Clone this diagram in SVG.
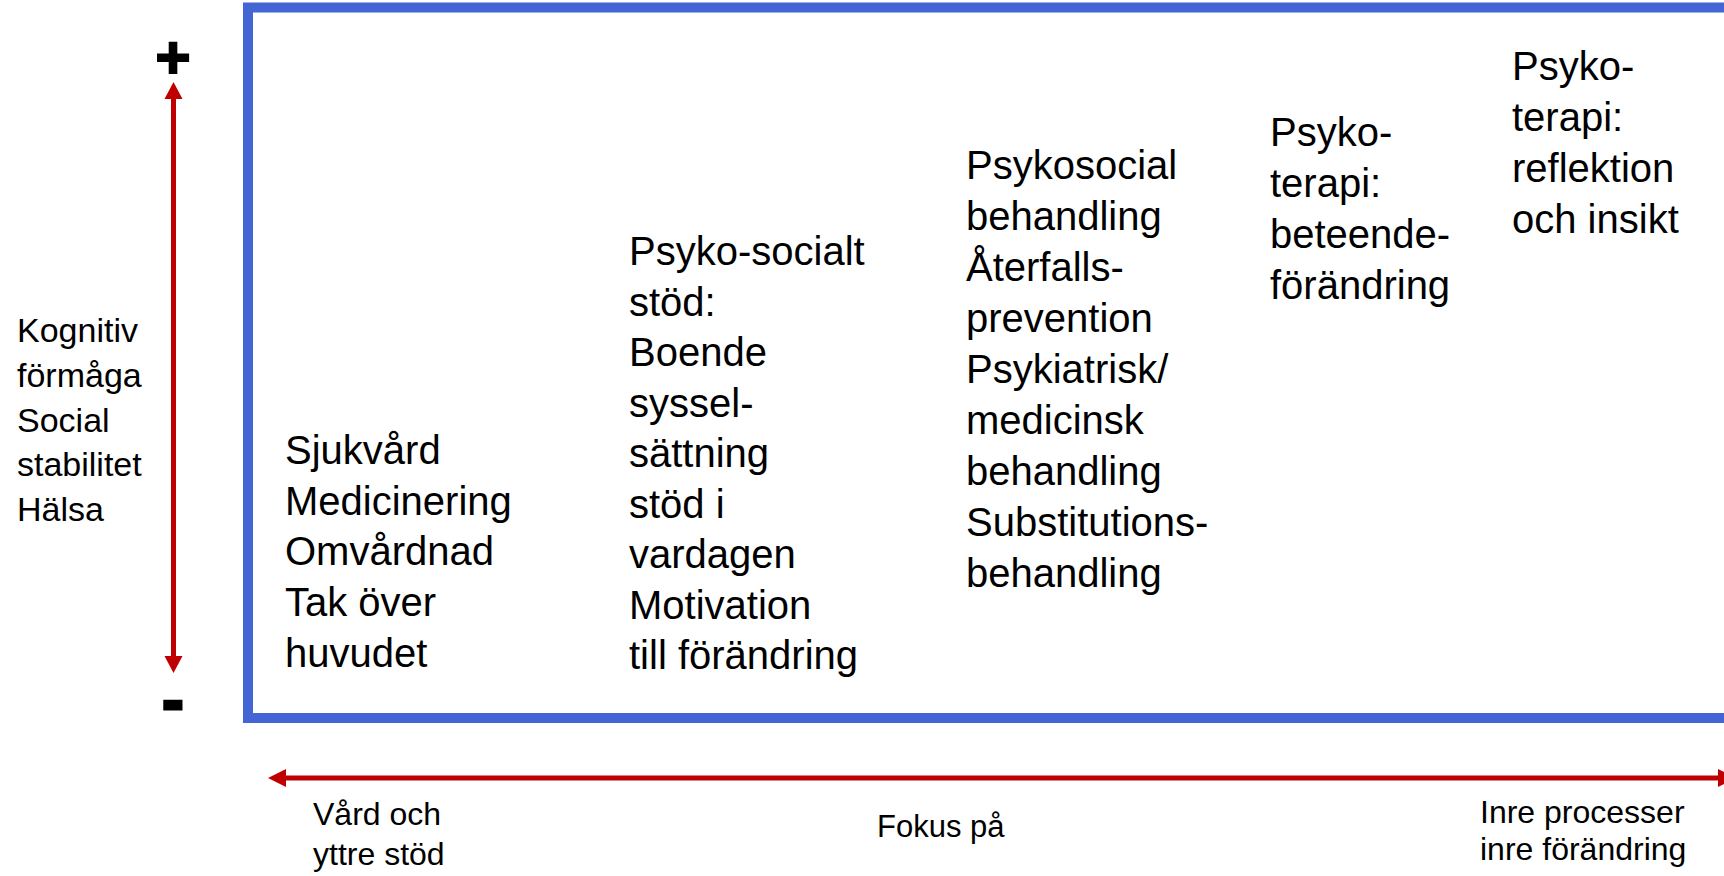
<svg xmlns="http://www.w3.org/2000/svg" width="1724" height="876" viewBox="0 0 1724 876">
<style>
.t{font-family:"Liberation Sans",Arial,sans-serif;fill:#000}
.big{font-size:40px}
.mid{font-size:34px}
.sm{font-size:32px}
.arrow{stroke:#C00000;stroke-width:5;fill:none}
.head{fill:#C00000}
</style>
<rect width="1724" height="876" fill="#fff"/>
<g id="frame">
<rect x="248" y="7.5" width="1500" height="710.5" fill="none" stroke="#4466D4" stroke-width="10"/>
</g>
<g id="connectors">
<line class="arrow" x1="173.5" y1="97" x2="173.5" y2="658"/>
<polygon class="head" points="173.5,82 182.5,99 164.5,99"/>
<polygon class="head" points="173.5,673 182.5,656 164.5,656"/>
<line class="arrow" x1="284" y1="778" x2="1720" y2="778"/>
<polygon class="head" points="268,778 286,769 286,787"/>
<polygon class="head" points="1736,778 1718,769 1718,787"/>
</g>
<g id="plus"><text class="t" x="173" y="78" font-size="60" font-weight="bold" text-anchor="middle" stroke="#000" stroke-width="2">+</text></g>
<g id="minus"><text class="t" x="173" y="722" font-size="64" font-weight="bold" text-anchor="middle" stroke="#000" stroke-width="3">-</text></g>
<g id="yaxis-label">
<text class="t mid" x="17" y="342">Kognitiv</text>
<text class="t mid" x="17" y="386.75">förmåga</text>
<text class="t mid" x="17" y="431.5">Social</text>
<text class="t mid" x="17" y="476.25">stabilitet</text>
<text class="t mid" x="17" y="521">Hälsa</text>
</g>
<g id="col1">
<text class="t big" x="285" y="464">Sjukvård</text>
<text class="t big" x="285" y="514.7">Medicinering</text>
<text class="t big" x="285" y="565.4">Omvårdnad</text>
<text class="t big" x="285" y="616.1">Tak över</text>
<text class="t big" x="285" y="666.8">huvudet</text>
</g>
<g id="col2">
<text class="t big" x="629" y="265">Psyko-socialt</text>
<text class="t big" x="629" y="315.5">stöd:</text>
<text class="t big" x="629" y="366">Boende</text>
<text class="t big" x="629" y="416.5">syssel-</text>
<text class="t big" x="629" y="467">sättning</text>
<text class="t big" x="629" y="517.5">stöd i</text>
<text class="t big" x="629" y="568">vardagen</text>
<text class="t big" x="629" y="618.5">Motivation</text>
<text class="t big" x="629" y="669">till förändring</text>
</g>
<g id="col3">
<text class="t big" x="966" y="179">Psykosocial</text>
<text class="t big" x="966" y="230">behandling</text>
<text class="t big" x="966" y="281">Återfalls-</text>
<text class="t big" x="966" y="332">prevention</text>
<text class="t big" x="966" y="383">Psykiatrisk/</text>
<text class="t big" x="966" y="434">medicinsk</text>
<text class="t big" x="966" y="485">behandling</text>
<text class="t big" x="966" y="536">Substitutions-</text>
<text class="t big" x="966" y="587">behandling</text>
</g>
<g id="col4">
<text class="t big" x="1270" y="146">Psyko-</text>
<text class="t big" x="1270" y="197">terapi:</text>
<text class="t big" x="1270" y="248">beteende-</text>
<text class="t big" x="1270" y="299">förändring</text>
</g>
<g id="col5">
<text class="t big" x="1512" y="80">Psyko-</text>
<text class="t big" x="1512" y="131">terapi:</text>
<text class="t big" x="1512" y="182">reflektion</text>
<text class="t big" x="1512" y="233">och insikt</text>
</g>
<g id="xaxis-left">
<text class="t sm" x="313" y="825">Vård och</text>
<text class="t sm" x="313" y="865">yttre stöd</text>
</g>
<g id="xaxis-mid"><text class="t" x="877" y="837" font-size="31">Fokus på</text></g>
<g id="xaxis-right">
<text class="t sm" x="1480" y="823">Inre processer</text>
<text class="t sm" x="1480" y="860">inre förändring</text>
</g>
</svg>
